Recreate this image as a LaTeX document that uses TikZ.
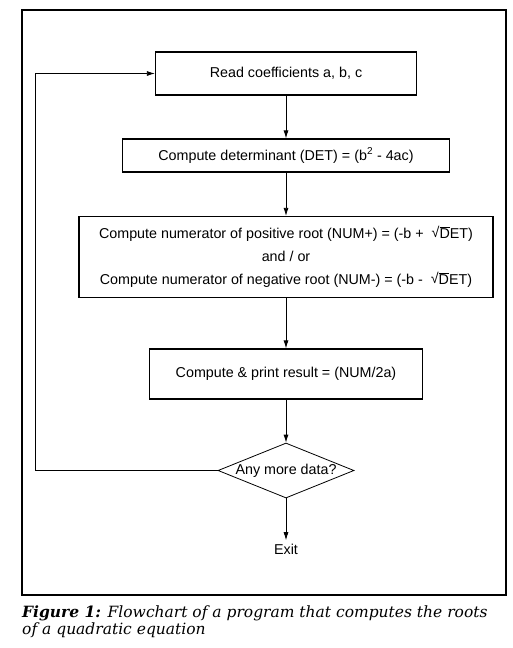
\documentclass[tikz,border=0pt]{standalone}
\usepackage{fontspec}
\setmainfont{DejaVu Serif}
\setsansfont{Liberation Sans}
\usetikzlibrary{shapes.geometric,arrows.meta}

\def\axis{286}
\def\rootdet{\raisebox{1pt}{√}$\overline{\hbox{D}}$ET}

\begin{document}
\begin{tikzpicture}[x=1pt,y=-1pt,font=\sffamily\fontsize{14.3}{17}\selectfont,>={Latex[length=8pt,width=5pt]}]
    \tikzstyle{stepbox}=[rectangle,draw=black,line width=1.2pt,inner sep=0pt,align=center]
    \tikzstyle{decision}=[diamond,draw=black,line width=0.8pt,aspect=2.5,inner sep=0pt,minimum width=136pt,minimum height=55pt]
    \tikzstyle{flow}=[->,line width=0.8pt]
    \tikzstyle{captionline}=[anchor=base west,inner sep=0pt,font=\rmfamily\itshape\fontsize{15.5}{18}\selectfont]

    \useasboundingbox (0,0) rectangle (512,648);
    \draw[line width=1.2pt] (22,10) rectangle (506,595);

    \node[stepbox,minimum width=261pt,minimum height=43pt] (read) at (\axis,73.5) {Read coefficients a, b, c};
    \node[stepbox,minimum width=327pt,minimum height=33pt] (det) at (\axis,155.5) {Compute determinant (DET) = (b\textsuperscript{2} - 4ac)};
    \node[stepbox,minimum width=414pt,minimum height=81pt,font=\sffamily\fontsize{14.3}{23}\selectfont] (num) at (\axis,257)
        {Compute numerator of positive root (NUM+) = (-b + \ \rootdet)\\
         and / or\\
         Compute numerator of negative root (NUM-) = (-b - \ \rootdet)};
    \node[stepbox,minimum width=273pt,minimum height=50pt] (res) at (\axis,374) {Compute \& print result = (NUM/2a)};
    \node[decision] (any) at (\axis,470.5) {Any more data?};
    \node (exit) at (\axis,549) {Exit};
    \coordinate (loop) at (35,470.5);

    \draw[flow] (read) -- (det);
    \draw[flow] (det) -- (num);
    \draw[flow] (num) -- (res);
    \draw[flow] (res) -- (any);
    \draw[flow] (any) -- (exit);
    \draw[flow] (any.west) -- (loop) |- (read.west);

    \node[captionline] (caption1) at (22,617) {\textbf{Figure 1:} Flowchart of a program that computes the roots};
    \node[captionline] (caption2) at (22,634) {of a quadratic equation};
\end{tikzpicture}
\end{document}
